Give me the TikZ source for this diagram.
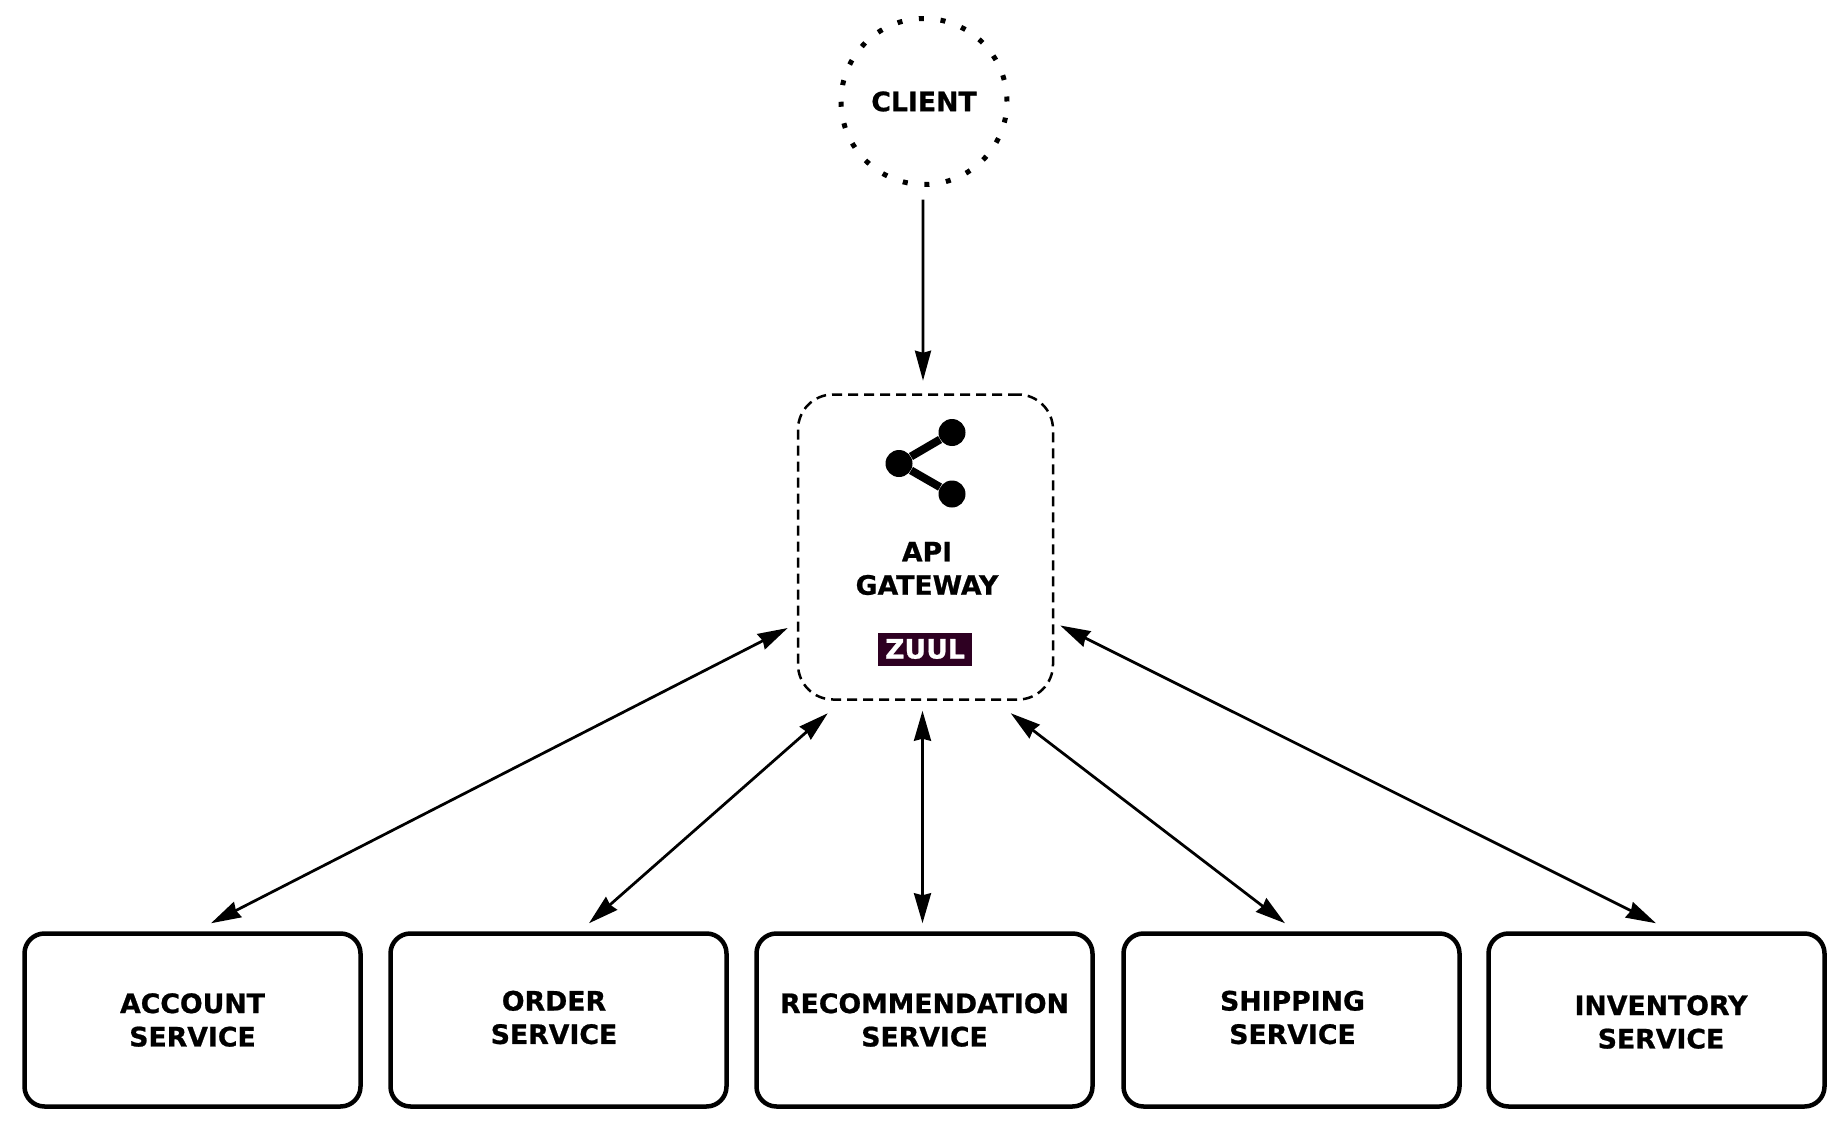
\documentclass[tikz,border=0pt]{standalone}
\usepackage{fontspec}
\setmainfont[BoldFeatures={FakeBold=0.8}]{DejaVu Sans}
\usepackage{tikz}
\usepackage{xcolor}
\usetikzlibrary{arrows.meta,calc}
\definecolor{zuulback}{HTML}{2E0022}
\tikzset{every picture/.style={font=\fontsize{15.2}{19}\selectfont\bfseries}}
\tikzstyle{link} =
  [ line width=0.055cm
  , {Stealth[length=0.6cm,width=0.34cm,inset=0.04cm]}-{Stealth[length=0.6cm,width=0.34cm,inset=0.04cm]}
  ]
\tikzstyle{service} =
  [ rectangle
  , draw
  , line width=0.09cm
  , rounded corners=0.4cm
  , minimum width=6.72cm
  , minimum height=3.46cm
  ]
\tikzstyle{gatewaybox} =
  [ rectangle
  , draw
  , line width=0.05cm
  , dash pattern=on 0.2cm off 0.12cm
  , rounded corners=0.7cm
  , minimum width=5.1cm
  , minimum height=6.1cm
  ]
\tikzstyle{clientdot} =
  [ circle
  , draw
  , line width=0.1cm
  , dash pattern=on 0.1cm off 0.335cm
  , minimum size=3.32cm
  , inner sep=0pt
  ]
\tikzstyle{sharedot} =
  [ circle
  , fill
  , minimum size=0.54cm
  , inner sep=0pt
  ]

\begin{document}
\begin{tikzpicture}
    \useasboundingbox (0,0) rectangle (36.94,-22.66);

    \node[clientdot] (client) at (18.48,-2.03) {CLIENT};
    \node[gatewaybox] (gateway) at (18.51,-10.94) {};

    % share icon
    \node[sharedot] (share_root) at (17.98,-9.27) {};
    \node[sharedot] (share_top)  at (19.04,-8.65) {};
    \node[sharedot] (share_down) at (19.04,-9.88) {};
    \draw[line width=0.16cm] (share_top) -- (share_root) -- (share_down);

    \node[align=center] (gateway_text) at (18.54,-11.37) {API\\GATEWAY};
    \node[fill=zuulback,text=white,minimum width=1.88cm,minimum height=0.66cm,inner sep=0pt] (zuul) at (18.5,-12.98) {ZUUL};

    \node[service] (account)        at (3.85,-20.4)  {};
    \node[service] (order)          at (11.17,-20.4) {};
    \node[service] (recommendation) at (18.49,-20.4) {};
    \node[service] (shipping)       at (25.83,-20.4) {};
    \node[service] (inventory)      at (33.13,-20.4) {};

    \node[align=center] (account_text)        at (3.85,-20.4)   {ACCOUNT\\SERVICE};
    \node[align=center] (order_text)          at (11.08,-20.35) {ORDER\\SERVICE};
    \node[align=center] (recommendation_text) at (18.49,-20.4)  {RECOMMENDATION\\SERVICE};
    \node[align=center] (shipping_text)       at (25.85,-20.35) {SHIPPING\\SERVICE};
    \node[align=center] (inventory_text)      at (33.22,-20.44) {INVENTORY\\SERVICE};

    \draw[line width=0.055cm,-{Stealth[length=0.6cm,width=0.32cm,inset=0.04cm]}] ([shift={(-0.02,-0.25)}]client.south) -- ([shift={(-0.05,0.25)}]gateway.north);
    \draw[link] ([shift={(-0.18,-1.62)}]gateway.west)        -- ([shift={(0.37,0.16)}]account.north);
    \draw[link] ([shift={(0.62,-0.25)}]gateway.south west)   -- ([shift={(0.61,0.16)}]order.north);
    \draw[link] ([shift={(-0.06,-0.2)}]gateway.south)        -- ([shift={(-0.04,0.16)}]recommendation.north);
    \draw[link] ([shift={(-0.87,-0.25)}]gateway.south east)  -- ([shift={(-0.13,0.16)}]shipping.north);
    \draw[link] ([shift={(0.12,-1.57)}]gateway.east)         -- ([shift={(-0.01,0.16)}]inventory.north);
\end{tikzpicture}
\end{document}
